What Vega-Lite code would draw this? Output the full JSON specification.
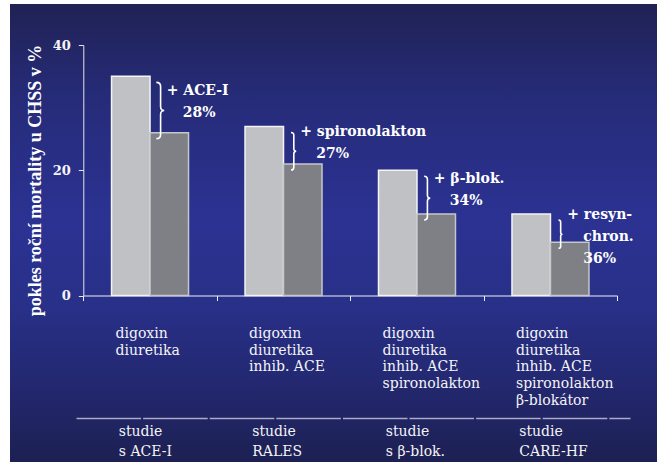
{
  "$schema": "https://vega.github.io/schema/vega-lite/v6.json",
  "width": 647,
  "height": 458,
  "autosize": "none",
  "padding": {"left": 10, "top": 4, "right": 0, "bottom": 0},
  "background": "white",
  "view": {
    "stroke": null,
    "fill": {
      "gradient": "linear",
      "x1": 0, "y1": 0, "x2": 0, "y2": 1,
      "stops": [
        {"offset": 0, "color": "#202254"},
        {"offset": 0.2, "color": "#262b78"},
        {"offset": 0.47, "color": "#2b3292"},
        {"offset": 0.66, "color": "#283088"},
        {"offset": 0.83, "color": "#232870"},
        {"offset": 1, "color": "#1d2052"}
      ]
    }
  },
  "datasets": {
    "studie": [
      {"lecba": "digoxin|diuretika", "studie": "studie|s ACE-I", "mortalita_puvodni": 35, "mortalita_po_pridani": 26, "pridany_lek": "+ ACE-I", "pokles": "28%"},
      {"lecba": "digoxin|diuretika|inhib. ACE", "studie": "studie|RALES", "mortalita_puvodni": 27, "mortalita_po_pridani": 21, "pridany_lek": "+ spironolakton", "pokles": "27%"},
      {"lecba": "digoxin|diuretika|inhib. ACE|spironolakton", "studie": "studie|s β-blok.", "mortalita_puvodni": 20, "mortalita_po_pridani": 13, "pridany_lek": "+ β-blok.", "pokles": "34%"},
      {"lecba": "digoxin|diuretika|inhib. ACE|spironolakton|β-blokátor", "studie": "studie|CARE-HF", "mortalita_puvodni": 13, "mortalita_po_pridani": 8.5, "pridany_lek": "+ resyn-", "pokles": "chron.|36%"}
    ]
  },
  "data": {"name": "studie"},
  "transform": [
    {"fold": ["mortalita_puvodni", "mortalita_po_pridani"], "as": ["rameno", "mortalita"]}
  ],
  "layer": [
    {
      "mark": {"type": "bar", "strokeWidth": 1.5},
      "encoding": {
        "x": {
          "field": "lecba", "type": "nominal", "sort": null,
          "scale": {"type": "band", "range": [73.3, 607.2], "paddingInner": 0, "paddingOuter": 0},
          "axis": {
            "orient": "bottom", "offset": -166.5, "title": null,
            "tickBand": "extent", "tickSize": 5, "tickWidth": 1,
            "domainColor": "#f0f0f4", "domainWidth": 1, "tickColor": "#f0f0f4",
            "labelExpr": "split(datum.label, '|')",
            "labelAlign": "left", "labelAngle": 0, "labelOffset": -35,
            "labelPadding": 26, "labelLineHeight": 16.7, "labelFontSize": 14,
            "labelOverlap": false
          }
        },
        "xOffset": {
          "field": "rameno", "type": "nominal",
          "sort": ["mortalita_puvodni", "mortalita_po_pridani"],
          "scale": {"paddingInner": 0, "paddingOuter": 0.734}
        },
        "y": {
          "field": "mortalita", "type": "quantitative",
          "scale": {"domain": [0, 40], "range": [291.5, 41], "nice": false},
          "axis": {
            "offset": -73.3, "values": [0, 20, 40],
            "title": "pokles roční mortality u CHSS v %",
            "titleFont": "Liberation Serif", "titleFontSize": 18, "titleFontWeight": "bold",
            "titleColor": "white", "titlePadding": 8, "titleY": 176,
            "labelFontWeight": "bold", "labelFontSize": 13, "labelPadding": 8,
            "tickSize": 5, "domainColor": "#e4e4ec", "tickColor": "#e4e4ec"
          }
        },
        "color": {
          "field": "rameno", "type": "nominal",
          "scale": {"domain": ["mortalita_puvodni", "mortalita_po_pridani"], "range": ["#c0c1c5", "#7f8085"]},
          "legend": null
        },
        "stroke": {
          "field": "rameno", "type": "nominal",
          "scale": {"domain": ["mortalita_puvodni", "mortalita_po_pridani"], "range": ["#f4f4f6", "#c6c7cb"]},
          "legend": null
        }
      }
    },
    {
      "encoding": {
        "x": {
          "field": "studie", "type": "nominal", "sort": null,
          "scale": {"type": "band", "range": [66, 620], "paddingInner": 0, "paddingOuter": 0.0749, "align": 0.35},
          "axis": {
            "orient": "bottom", "offset": -44, "title": null, "ticks": false,
            "domainColor": "#a9abc9", "domainWidth": 1.5, "domainDash": [64.6, 2],
            "labelExpr": "split(datum.label, '|')",
            "labelAlign": "left", "labelAngle": 0, "labelOffset": -31,
            "labelPadding": 6, "labelLineHeight": 20, "labelFontSize": 14,
            "labelOverlap": false
          }
        },
        "y": {"aggregate": "mean", "field": "mortalita", "type": "quantitative"}
      },
      "layer": [
        {
          "mark": {
            "type": "point",
            "shape": "M -0.12 -1 Q 0.03 -1 0.03 -0.85 L 0.03 -0.14 Q 0.03 0 0.16 0 Q 0.03 0 0.03 0.14 L 0.03 0.85 Q 0.03 1 -0.12 1",
            "filled": false, "stroke": "white", "strokeWidth": 1.6, "opacity": 1,
            "xOffset": 10, "yOffset": 6
          },
          "encoding": {
            "size": {
              "aggregate": "stdevp", "field": "mortalita", "type": "quantitative",
              "scale": {"type": "pow", "exponent": 2, "domain": [0, 20], "range": [0, 62500]},
              "legend": null
            }
          }
        },
        {
          "mark": {
            "type": "text", "align": "left", "baseline": "middle", "dx": 17, "dy": -13,
            "font": "DejaVu Serif", "fontWeight": "bold", "fontSize": 14, "color": "white"
          },
          "encoding": {"text": {"field": "pridany_lek", "type": "nominal"}}
        },
        {
          "mark": {
            "type": "text", "align": "left", "baseline": "middle", "dx": 33, "dy": 9,
            "lineBreak": "|", "lineHeight": 22,
            "font": "DejaVu Serif", "fontWeight": "bold", "fontSize": 14, "color": "white"
          },
          "encoding": {"text": {"field": "pokles", "type": "nominal"}}
        }
      ]
    }
  ],
  "resolve": {"scale": {"x": "independent"}, "axis": {"x": "independent"}},
  "config": {
    "font": "DejaVu Serif",
    "axis": {
      "grid": false,
      "labelFont": "DejaVu Serif",
      "labelColor": "#f4f4f6"
    }
  }
}
